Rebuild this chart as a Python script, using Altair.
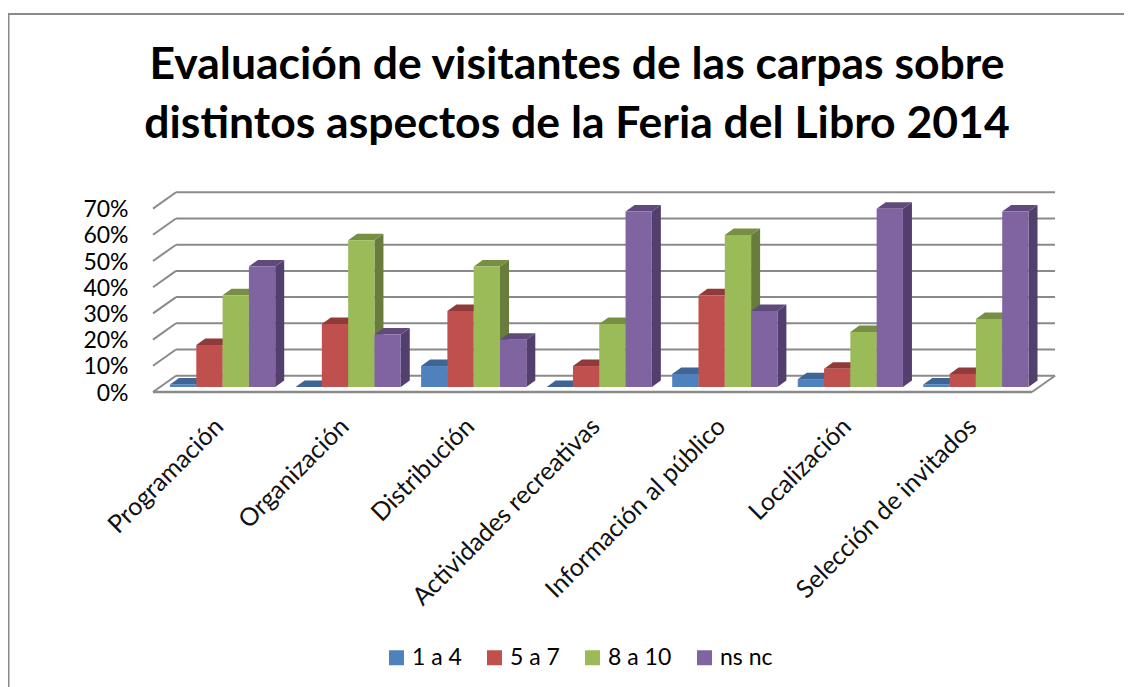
import json
import altair as alt
import pandas as pd

categorias = ["Programación", "Organización", "Distribución", "Actividades recreativas",
              "Información al público", "Localización", "Selección de invitados"]
series = ["1 a 4", "5 a 7", "8 a 10", "ns nc"]
v_1a4 = [1, 0, 8, 0, 5, 3, 1]
v_5a7 = [16, 24, 29, 8, 35, 7, 5]
v_8a10 = [35, 56, 46, 24, 58, 21, 26]
v_nsnc = [46, 20, 18, 67, 29, 68, 67]
valores = [v_1a4, v_5a7, v_8a10, v_nsnc]
frente = ["#4F81BD", "#C0504D", "#9BBB59", "#8064A2"]
lado = ["#385D8A", "#7F3835", "#687D3B", "#533F6E"]
techo = ["#3E6595", "#8F3B39", "#768F42", "#604A7C"]
marcas_y = [0, 10, 20, 30, 40, 50, 60, 70]
titulo = ["Evaluación de visitantes de las carpas sobre",
          "distintos aspectos de la Feria del Libro 2014"]

FONT = "Lato"
GRID = "#8A8A8A"
W, H = 902, 200
PX_X, PX_Y = 125.55, 2.62
x_min, x_max = -69.65 / PX_X, 832.35 / PX_X
y_max = H / PX_Y
muro_dx, muro_dy = 23 / PX_X, 16.3 / PX_Y
base = 5 / PX_Y
barra_w = 26.3 / PX_X
barra_dx, barra_dy = 9 / PX_X, 6.5 / PX_Y
ini = -52.65 / PX_X

xs = alt.Scale(domain=[x_min, x_max], nice=False, zero=False)
ys = alt.Scale(domain=[0, y_max], nice=False, zero=False)
eje_x = alt.Axis(
    values=list(range(len(categorias))),
    labelExpr=f"{json.dumps(categorias)}[datum.value]",
    labelAngle=315, labelAlign="right", labelBaseline="middle",
    labelFontSize=25, labelFont=FONT, labelColor="#111111", labelPadding=30,
    labelOffset=-4,
    labelOverlap=False, labelBound=False, labelFlush=False, labelLimit=400,
    domain=False, ticks=False, grid=False, title=None)
eje_y = alt.Axis(
    values=marcas_y,
    labelExpr="datum.value + '%'",
    labelFontSize=23, labelFont=FONT, labelColor="#000000", labelPadding=25,
    labelOffset=1,
    labelOverlap=False, labelBound=False,
    domain=False, ticks=False, grid=False, title=None)
X = lambda f: alt.X(f, scale=xs, axis=eje_x)
Y = lambda f: alt.Y(f, scale=ys, axis=eje_y)

grid = pd.DataFrame({"v": marcas_y})
grid["vb"] = grid.v + muro_dy
grid["x0"] = x_min
grid["x1"] = x_min + muro_dx
grid["x2"] = x_max

capas = [
    alt.Chart(grid).mark_rule(color=GRID, strokeWidth=2).encode(
        x=X("x1:Q"), x2="x2:Q", y=Y("vb:Q")),
    alt.Chart(grid).mark_rule(color=GRID, strokeWidth=2).encode(
        x=X("x0:Q"), x2="x1:Q", y=Y("v:Q"), y2="vb:Q"),
]

piso = pd.DataFrame({"x0": [x_min], "x1": [x_max - muro_dx], "x2": [x_max],
                     "y0": [0.0], "y1": [muro_dy]})
capas.append(alt.Chart(piso).mark_rule(color=GRID, strokeWidth=2.5).encode(
    x=X("x0:Q"), x2="x1:Q", y=Y("y0:Q")))
capas.append(alt.Chart(piso).mark_rule(color=GRID, strokeWidth=2).encode(
    x=X("x1:Q"), x2="x2:Q", y=Y("y0:Q"), y2="y1:Q"))

for s, nombre in enumerate(series):
    frente_f, lado_f, techo_f = [], [], []
    for i, val in enumerate(valores[s]):
        xl = i + ini + s * barra_w
        xr = xl + barra_w
        top = base + val
        frente_f.append({"c": i, "serie": nombre, "xl": xl, "xr": xr, "y0": base, "y1": top})
        lado_f += [
            {"c": i, "x": xr, "y0": base, "y1": top},
            {"c": i, "x": xr + barra_dx, "y0": base + barra_dy, "y1": top + barra_dy},
        ]
        techo_f += [
            {"c": i, "y": top, "xa": xl, "xb": xr},
            {"c": i, "y": top + barra_dy, "xa": xl + barra_dx, "xb": xr + barra_dx},
        ]
    capas.append(alt.Chart(pd.DataFrame(lado_f)).mark_area(color=lado[s]).encode(
        x=X("x:Q"), y=Y("y0:Q"), y2="y1:Q", detail="c:N"))
    capas.append(alt.Chart(pd.DataFrame(techo_f)).mark_area(color=techo[s], orient="horizontal").encode(
        y=Y("y:Q"), x=X("xa:Q"), x2="xb:Q", detail="c:N"))
    capas.append(alt.Chart(pd.DataFrame(frente_f)).mark_rect().encode(
        x=X("xl:Q"), x2="xr:Q", y=Y("y0:Q"), y2="y1:Q",
        color=alt.Color("serie:N", scale=alt.Scale(domain=series, range=frente),
                        legend=alt.Legend(
                            title=None, orient="none", direction="horizontal",
                            legendX=232, legendY=454, columns=4,
                            symbolType="square", symbolSize=225, symbolStrokeWidth=0,
                            labelFont=FONT, labelFontSize=23, labelColor="#000000",
                            labelOffset=4, columnPadding=21))))

uno = pd.DataFrame({"a": [0]})
capas.append(alt.Chart(uno).mark_rule(color=GRID, strokeWidth=2).encode(
    x=alt.value(-144.5), y=alt.value(-178), y2=alt.value(495)))
capas.append(alt.Chart(uno).mark_rule(color=GRID, strokeWidth=2).encode(
    x=alt.value(-145), x2=alt.value(971), y=alt.value(-178)))

cab = pd.DataFrame({"t": titulo, "py": [-113, -54]})
capas.append(alt.Chart(cab).mark_text(
    font=FONT, fontSize=44.5, fontWeight="bold", color="#000000",
    align="center", baseline="alphabetic").encode(
    text="t:N", x=alt.value(424), y=alt.Y("py:Q", scale=None, axis=None)))

chart = alt.layer(*capas).properties(
    width=W, height=H,
    autosize="none",
    padding={"left": 145, "top": 184, "right": 69, "bottom": 295},
).configure_view(stroke=None)

chart.save("out.html", embed_options={"renderer": "svg", "actions": False})
